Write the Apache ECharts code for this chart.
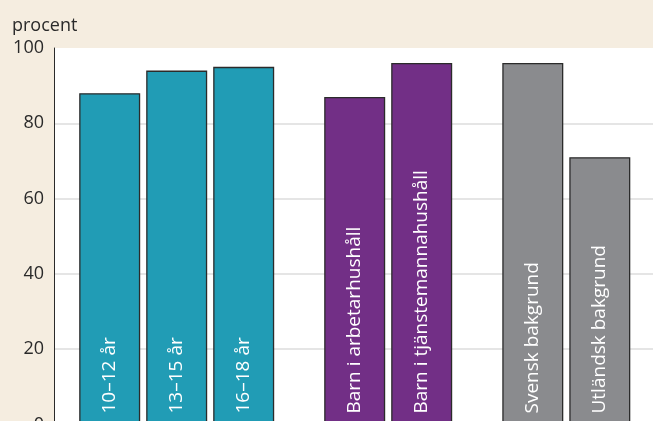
<!DOCTYPE html>
<html><head><meta charset="utf-8">
<script src="https://cdn.jsdelivr.net/npm/echarts@6/dist/echarts.min.js"></script>
<style>html,body{margin:0;padding:0;background:#f5ede0;}#c{width:653px;height:421px;}</style>
</head><body><div id="c"></div>
<script>
var yLabel = 'procent';
var ageCats = ['10–12 år', '13–15 år', '16–18 år'];
var ageVals = [88, 94, 95];
var houseCats = ['Barn i arbetarhushåll', 'Barn i tjänstemannahushåll'];
var houseVals = [87, 96];
var bgCats = ['Svensk bakgrund', 'Utländsk bakgrund'];
var bgVals = [96, 71];
var yTicks = [0, 20, 40, 60, 80, 100];

var FONT = '"Open Sans", sans-serif';
var TOP = 48, H = 376.5;
var groups = [
  {cats: ageCats, vals: ageVals, color: '#219cb5', left: 76.2, width: 201},
  {cats: houseCats, vals: houseVals, color: '#722f86', left: 321.2, width: 134},
  {cats: bgCats, vals: bgVals, color: '#8a8b8e', left: 499.3, width: 134}
];

var grids = [{left: 54, right: 0, top: TOP, height: H, show: true, backgroundColor: '#ffffff', borderWidth: 0, outerBoundsMode: 'none', containLabel: false}];
var xAxes = [{type: 'value', gridIndex: 0, show: false, min: 0, max: 1}];
var yAxes = [{
  type: 'value', gridIndex: 0, min: yTicks[0], max: yTicks[yTicks.length - 1], interval: yTicks[1] - yTicks[0],
  axisLine: {show: true, lineStyle: {color: '#2a2a2a', width: 1}},
  axisTick: {show: false},
  axisLabel: {fontFamily: FONT, fontSize: 18, color: '#2a2a2a', margin: 10},
  splitLine: {show: true, showMinLine: false, showMaxLine: false, lineStyle: {color: '#dcdcdc', width: 1.5}}
}];
var series = [];
groups.forEach(function (g, i) {
  var gi = i + 1;
  grids.push({left: g.left, width: g.width, top: TOP, height: H, outerBoundsMode: 'none', containLabel: false});
  xAxes.push({type: 'category', gridIndex: gi, data: g.cats, show: false});
  yAxes.push({type: 'value', gridIndex: gi, min: 0, max: 100, show: false});
  series.push({
    type: 'bar', xAxisIndex: gi, yAxisIndex: gi, data: g.vals, barWidth: 61,
    itemStyle: {color: g.color, borderColor: '#2b2b2b', borderWidth: 1.3},
    label: {
      show: true, position: 'insideBottom', rotate: 90, align: 'left', verticalAlign: 'middle',
      distance: 11, color: '#ffffff', fontFamily: FONT, fontSize: 19,
      formatter: function (p) { return p.name; }
    },
    silent: true, animation: false
  });
});

var chart = echarts.init(document.getElementById('c'), null, {renderer: 'canvas'});
chart.setOption({
  backgroundColor: '#f5ede0',
  animation: false,
  grid: grids, xAxis: xAxes, yAxis: yAxes, series: series,
  graphic: [{type: 'text', left: 12, top: 17, style: {text: yLabel, fontFamily: FONT, fontSize: 18, fill: '#2a2a2a'}}]
});
</script></body></html>
